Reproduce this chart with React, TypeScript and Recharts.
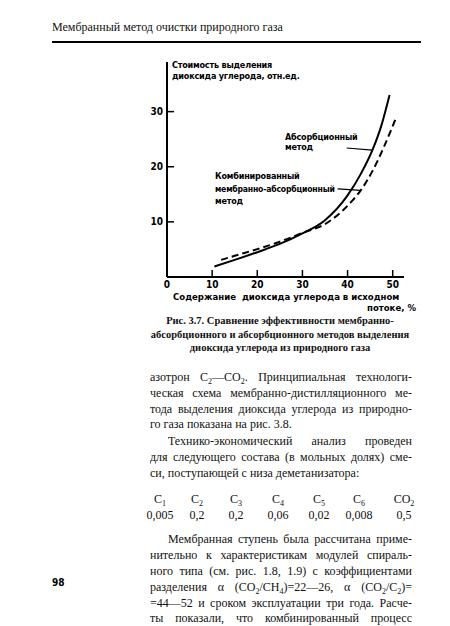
import React from "react";
import { LineChart, Line, XAxis, YAxis, ReferenceLine } from "recharts";

// x: CO2 content in feed gas, %; y: relative cost of CO2 removal
const xTicks = [0, 10, 20, 30, 40, 50];
const yTicks = [10, 20, 30];

const absorptionX = [10.5, 15, 20, 25, 30, 35, 40, 43, 45.5, 47.5, 49.3];
const absorptionY = [1.9, 3.1, 4.5, 6.0, 7.9, 10.3, 14.8, 18.8, 23.0, 27.5, 33.0];

const combinedX = [12, 15, 20, 25, 30, 35, 41, 43, 45.5, 48, 50.8];
const combinedY = [3.1, 3.85, 5.05, 6.4, 8.0, 9.6, 13.8, 15.8, 19.2, 23.5, 29.0];

const components = ["1", "2", "3", "4", "5", "6", "O2"];
const fractions = ["0,005", "0,2", "0,2", "0,06", "0,02", "0,008", "0,5"];
const columnX = [160, 197, 236, 278, 319, 359, 404];

const absorption = absorptionX.map((x, i) => ({ x, y: absorptionY[i] }));
const combined = combinedX.map((x, i) => ({ x, y: combinedY[i] }));

const chartFont = '"Liberation Sans Narrow", "DejaVu Sans Condensed", "Liberation Sans", sans-serif';
const serif = '"Liberation Serif", "DejaVu Serif", serif';

function Label({
  x,
  y,
  size = 9,
  spacing = -0.2,
  children,
}: {
  x: number;
  y: number;
  size?: number;
  spacing?: number;
  children: React.ReactNode;
}) {
  return (
    <div
      style={{
        position: "absolute",
        left: x,
        top: y - 6,
        lineHeight: "12px",
        fontSize: size,
        letterSpacing: spacing,
        fontWeight: 700,
        fontFamily: chartFont,
        whiteSpace: "nowrap",
        color: "#000",
      }}
    >
      {children}
    </div>
  );
}

function TextLine({
  y,
  indent = 0,
  justify = true,
  children,
}: {
  y: number;
  indent?: number;
  justify?: boolean;
  children: React.ReactNode;
}) {
  return (
    <div
      style={{
        position: "absolute",
        left: 150 + indent,
        width: 262 - indent,
        top: y - 8,
        height: 16,
        lineHeight: "16px",
        fontSize: 12,
        fontFamily: serif,
        textAlign: justify ? "justify" : "left",
        textAlignLast: justify ? "justify" : "left",
        overflow: "hidden",
        color: "#111",
      }}
    >
      {children}
    </div>
  );
}

const s = (t: string) => (
  <sub style={{ fontSize: 8, lineHeight: 0, verticalAlign: -3 }}>{t}</sub>
);

export default function App() {
  return (
    <div
      style={{
        position: "absolute",
        left: 0,
        top: 0,
        width: 450,
        height: 626,
        background: "#fff",
        overflow: "hidden",
      }}
    >
      <div
        style={{
          position: "absolute",
          left: 52,
          top: 19,
          fontSize: 12,
          lineHeight: "16px",
          fontFamily: serif,
          color: "#111",
        }}
      >
        Мембранный метод очистки природного газа
      </div>
      <div
        style={{ position: "absolute", left: 52, top: 41, width: 369, height: 2, background: "#000" }}
      />

      <div style={{ position: "absolute", left: 0, top: 0 }}>
        <LineChart
          width={450}
          height={300}
          margin={{ top: 62, right: 46, bottom: 3, left: 137 }}
        >
          <XAxis
            type="number"
            dataKey="x"
            domain={[0, 52.5]}
            ticks={xTicks}
            allowDataOverflow
            height={20}
            tickSize={-7}
            tickMargin={11}
            axisLine={{ stroke: "#000", strokeWidth: 2 }}
            tickLine={{ stroke: "#000", strokeWidth: 1.5 }}
            tick={{ fill: "#000", fontSize: 10, fontWeight: 700, fontFamily: chartFont }}
          />
          <YAxis
            type="number"
            dataKey="y"
            domain={[0, 39]}
            ticks={yTicks}
            allowDataOverflow
            width={30}
            tickSize={-7}
            tickMargin={11}
            axisLine={{ stroke: "#000", strokeWidth: 2 }}
            tickLine={{ stroke: "#000", strokeWidth: 1.5 }}
            tick={{ fill: "#000", fontSize: 10, fontWeight: 700, fontFamily: chartFont }}
          />
          <Line
            data={absorption}
            dataKey="y"
            type="monotone"
            stroke="#000"
            strokeWidth={2}
            dot={false}
            isAnimationActive={false}
          />
          <Line
            data={combined}
            dataKey="y"
            type="monotone"
            stroke="#000"
            strokeWidth={2}
            strokeDasharray="7 4"
            dot={false}
            isAnimationActive={false}
          />
          <ReferenceLine
            segment={[{ x: 39.8, y: 23.4 }, { x: 45.5, y: 23.0 }]}
            stroke="#000"
            strokeWidth={1.2}
          />
          <ReferenceLine
            segment={[{ x: 37.8, y: 16.0 }, { x: 42.9, y: 15.7 }]}
            stroke="#000"
            strokeWidth={1.2}
          />
        </LineChart>
      </div>

      <Label x={172} y={65}>Стоимость выделения</Label>
      <Label x={172} y={76}>диоксида углерода, отн.ед.</Label>
      <Label x={285} y={137}>Абсорбционный</Label>
      <Label x={285} y={147}>метод</Label>
      <Label x={215} y={176}>Комбинированный</Label>
      <Label x={215} y={189} size={8.6}>мембранно-абсорбционный</Label>
      <Label x={215} y={201}>метод</Label>
      <Label x={173} y={297} size={9.5} spacing={0}>
        Содержание&nbsp; диоксида углерода в исходном
      </Label>
      <Label x={367} y={308} size={9.5} spacing={0}>потоке, %</Label>

      <div
        style={{
          position: "absolute",
          left: 130,
          width: 300,
          top: 314,
          textAlign: "center",
          fontSize: 10.5,
          lineHeight: "13.5px",
          fontWeight: 700,
          fontFamily: serif,
          color: "#111",
        }}
      >
        Рис. 3.7. Сравнение эффективности мембранно-
        <br />
        абсорбционного и абсорбционного методов выделения
        <br />
        диоксида углерода из природного газа
      </div>

      <TextLine y={377}>
        азотрон C{s("2")}—CO{s("2")}. Принципиальная технологи-
      </TextLine>
      <TextLine y={393}>ческая схема мембранно-дистилляционного ме-</TextLine>
      <TextLine y={409}>тода выделения диоксида углерода из природно-</TextLine>
      <TextLine y={424} justify={false}>го газа показана на рис. 3.8.</TextLine>
      <TextLine y={441} indent={18}>Технико-экономический анализ проведен</TextLine>
      <TextLine y={457}>для следующего состава (в мольных долях) сме-</TextLine>
      <TextLine y={473} justify={false}>си, поступающей с низа деметанизатора:</TextLine>

      {components.map((c, i) => (
        <div
          key={"c" + i}
          style={{
            position: "absolute",
            left: columnX[i] - 20,
            width: 40,
            top: 491,
            textAlign: "center",
            fontSize: 12,
            lineHeight: "16px",
            fontFamily: serif,
            color: "#111",
          }}
        >
          {c === "O2" ? <>CO{s("2")}</> : <>C{s(c)}</>}
        </div>
      ))}
      {fractions.map((v, i) => (
        <div
          key={"v" + i}
          style={{
            position: "absolute",
            left: columnX[i] - 20,
            width: 40,
            top: 507,
            textAlign: "center",
            fontSize: 12,
            lineHeight: "16px",
            fontFamily: serif,
            color: "#111",
          }}
        >
          {v}
        </div>
      ))}

      <TextLine y={539} indent={18}>Мембранная ступень была рассчитана приме-</TextLine>
      <TextLine y={555}>нительно к характеристикам модулей спираль-</TextLine>
      <TextLine y={571}>ного типа (см. рис. 1.8, 1.9) с коэффициентами</TextLine>
      <TextLine y={587}>
        разделения α (CO{s("2")}/CH{s("4")})=22—26, α (CO{s("2")}/C{s("2")})=
      </TextLine>
      <TextLine y={603}>=44—52 и сроком эксплуатации три года. Расче-</TextLine>
      <TextLine y={618}>ты показали, что комбинированный процесс</TextLine>

      <div
        style={{
          position: "absolute",
          left: 52,
          top: 577,
          fontSize: 10,
          fontWeight: 700,
          fontFamily: chartFont,
          lineHeight: "12px",
          color: "#000",
        }}
      >
        98
      </div>
    </div>
  );
}
